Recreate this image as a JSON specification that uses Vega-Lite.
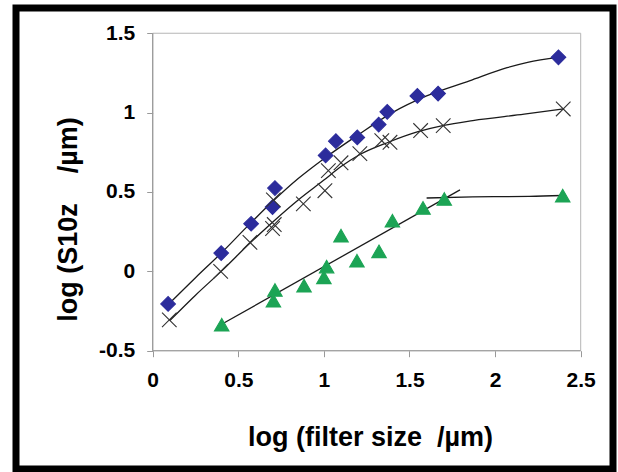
{
  "$schema": "https://vega.github.io/schema/vega-lite/v6.json",
  "autosize": "none",
  "width": 597,
  "height": 461,
  "padding": {"left": 16, "top": 8, "right": 5, "bottom": 3},
  "background": "white",
  "config": {
    "view": {"stroke": "#000000", "strokeWidth": 7},
    "axis": {
      "labelFont": "Liberation Sans",
      "labelFontWeight": "bold",
      "labelFontSize": 21,
      "labelColor": "#000000",
      "titleFont": "Liberation Sans",
      "titleFontWeight": "bold",
      "titleFontSize": 27,
      "titleColor": "#000000",
      "grid": false,
      "domain": false,
      "tickColor": "#999999",
      "tickSize": 6
    }
  },
  "datasets": {
    "points": [
      {"series": "A", "x": 0.09, "y": -0.205},
      {"series": "A", "x": 0.40, "y": 0.115},
      {"series": "A", "x": 0.575, "y": 0.30},
      {"series": "A", "x": 0.70, "y": 0.405},
      {"series": "A", "x": 0.714, "y": 0.525},
      {"series": "A", "x": 1.01, "y": 0.73},
      {"series": "A", "x": 1.07, "y": 0.82},
      {"series": "A", "x": 1.195, "y": 0.844},
      {"series": "A", "x": 1.32, "y": 0.925},
      {"series": "A", "x": 1.37, "y": 1.005},
      {"series": "A", "x": 1.546, "y": 1.105},
      {"series": "A", "x": 1.667, "y": 1.12},
      {"series": "A", "x": 2.37, "y": 1.348},
      {"series": "B", "x": 0.097, "y": -0.306},
      {"series": "B", "x": 0.397, "y": 0.0},
      {"series": "B", "x": 0.568, "y": 0.183},
      {"series": "B", "x": 0.70, "y": 0.27},
      {"series": "B", "x": 0.71, "y": 0.295},
      {"series": "B", "x": 0.705, "y": 0.45},
      {"series": "B", "x": 0.88, "y": 0.425},
      {"series": "B", "x": 1.006, "y": 0.508},
      {"series": "B", "x": 1.026, "y": 0.635},
      {"series": "B", "x": 1.10, "y": 0.684},
      {"series": "B", "x": 1.21, "y": 0.742},
      {"series": "B", "x": 1.338, "y": 0.823},
      {"series": "B", "x": 1.386, "y": 0.813},
      {"series": "B", "x": 1.565, "y": 0.887},
      {"series": "B", "x": 1.697, "y": 0.918},
      {"series": "B", "x": 2.398, "y": 1.023},
      {"series": "C", "x": 0.403, "y": -0.336},
      {"series": "C", "x": 0.705, "y": -0.185},
      {"series": "C", "x": 0.714, "y": -0.117},
      {"series": "C", "x": 0.884, "y": -0.09},
      {"series": "C", "x": 1.0, "y": -0.038},
      {"series": "C", "x": 1.016, "y": 0.03},
      {"series": "C", "x": 1.1, "y": 0.225},
      {"series": "C", "x": 1.193, "y": 0.067},
      {"series": "C", "x": 1.322, "y": 0.126},
      {"series": "C", "x": 1.40, "y": 0.319},
      {"series": "C", "x": 1.579, "y": 0.40},
      {"series": "C", "x": 1.703, "y": 0.456},
      {"series": "C", "x": 2.395, "y": 0.477}
    ],
    "curves": [
      {"curve": "A", "x": 0.09, "y": -0.21},
      {"curve": "A", "x": 0.25, "y": -0.04},
      {"curve": "A", "x": 0.4, "y": 0.115},
      {"curve": "A", "x": 0.55, "y": 0.28},
      {"curve": "A", "x": 0.7, "y": 0.44},
      {"curve": "A", "x": 0.85, "y": 0.585},
      {"curve": "A", "x": 1.0, "y": 0.71},
      {"curve": "A", "x": 1.2, "y": 0.86},
      {"curve": "A", "x": 1.4, "y": 1.0},
      {"curve": "A", "x": 1.6, "y": 1.105},
      {"curve": "A", "x": 1.85, "y": 1.2},
      {"curve": "A", "x": 2.07, "y": 1.283},
      {"curve": "A", "x": 2.19, "y": 1.317},
      {"curve": "A", "x": 2.37, "y": 1.348},
      {"curve": "B", "x": 0.1, "y": -0.31},
      {"curve": "B", "x": 0.25, "y": -0.15},
      {"curve": "B", "x": 0.4, "y": 0.0},
      {"curve": "B", "x": 0.57, "y": 0.18},
      {"curve": "B", "x": 0.7, "y": 0.31},
      {"curve": "B", "x": 0.85, "y": 0.45},
      {"curve": "B", "x": 1.0, "y": 0.575},
      {"curve": "B", "x": 1.1, "y": 0.66},
      {"curve": "B", "x": 1.2, "y": 0.73},
      {"curve": "B", "x": 1.38, "y": 0.815},
      {"curve": "B", "x": 1.55, "y": 0.88},
      {"curve": "B", "x": 1.7, "y": 0.92},
      {"curve": "B", "x": 1.87, "y": 0.95},
      {"curve": "B", "x": 2.17, "y": 0.99},
      {"curve": "B", "x": 2.4, "y": 1.023},
      {"curve": "C1", "x": 0.4, "y": -0.335},
      {"curve": "C1", "x": 1.795, "y": 0.513},
      {"curve": "C2", "x": 1.6, "y": 0.462},
      {"curve": "C2", "x": 1.87, "y": 0.469},
      {"curve": "C2", "x": 2.2, "y": 0.472},
      {"curve": "C2", "x": 2.395, "y": 0.478}
    ]
  },
  "encoding": {
    "x": {
      "type": "quantitative",
      "scale": {"domain": [-0.7985, 2.6887], "nice": false, "zero": false},
      "axis": {
        "orient": "bottom",
        "offset": -118.3,
        "values": [0, 0.5, 1, 1.5, 2, 2.5],
        "labelExpr": "'' + datum.value",
        "labelPadding": 13,
        "title": "log (filter size\u00a0\u00a0/µm)",
        "titleX": 354,
        "titleY": 87,
        "titleBaseline": "middle",
        "titleAlign": "center"
      }
    },
    "y": {
      "type": "quantitative",
      "scale": {"domain": [-1.245, 1.659], "nice": false, "zero": false},
      "axis": {
        "orient": "left",
        "offset": -136.7,
        "values": [-0.5, 0, 0.5, 1, 1.5],
        "labelExpr": "'' + datum.value",
        "labelPadding": 12,
        "title": "log (S10z\u00a0\u00a0\u00a0\u00a0/µm)",
        "titleX": -84,
        "titleY": 211,
        "titleAngle": -90,
        "titleBaseline": "middle",
        "titleAlign": "center"
      }
    }
  },
  "layer": [
    {
      "data": {"values": [{}]},
      "mark": {"type": "rect", "fill": null, "stroke": "#b5b5b5", "strokeWidth": 1},
      "encoding": {
        "x": {"datum": 0, "type": "quantitative"},
        "x2": {"datum": 2.5},
        "y": {"datum": -0.5, "type": "quantitative"},
        "y2": {"datum": 1.5}
      }
    },
    {
      "data": {"values": [{}]},
      "mark": {"type": "rule", "color": "#999999", "strokeWidth": 1.2},
      "encoding": {
        "x": {"datum": 0, "type": "quantitative"},
        "y": {"datum": -0.5, "type": "quantitative"},
        "y2": {"datum": 1.5}
      }
    },
    {
      "data": {"values": [{}]},
      "mark": {"type": "rule", "color": "#999999", "strokeWidth": 1.2},
      "encoding": {
        "y": {"datum": -0.5, "type": "quantitative"},
        "x": {"datum": 0, "type": "quantitative"},
        "x2": {"datum": 2.5}
      }
    },
    {
      "data": {"name": "curves"},
      "mark": {"type": "line", "color": "#1a1a1a", "strokeWidth": 1.3, "interpolate": "monotone"},
      "encoding": {
        "x": {"field": "x", "type": "quantitative"},
        "y": {"field": "y", "type": "quantitative"},
        "detail": {"field": "curve"},
        "order": {"field": "x", "type": "quantitative"}
      }
    },
    {
      "data": {"name": "points"},
      "mark": {"type": "point", "strokeWidth": 1.1, "opacity": 1},
      "encoding": {
        "x": {"field": "x", "type": "quantitative"},
        "y": {"field": "y", "type": "quantitative"},
        "shape": {
          "field": "series",
          "type": "nominal",
          "scale": {"domain": ["A", "B", "C"], "range": ["diamond", "M-1,-1L1,1M-1,1L1,-1", "triangle-up"]},
          "legend": null
        },
        "fill": {
          "field": "series",
          "type": "nominal",
          "scale": {"domain": ["A", "B", "C"], "range": ["#2c2c9c", "transparent", "#1ca455"]},
          "legend": null
        },
        "stroke": {
          "field": "series",
          "type": "nominal",
          "scale": {"domain": ["A", "B", "C"], "range": ["#2c2c9c", "#333333", "#1ca455"]},
          "legend": null
        },
        "size": {
          "field": "series",
          "type": "nominal",
          "scale": {"domain": ["A", "B", "C"], "range": [215, 210, 260]},
          "legend": null
        }
      }
    }
  ]
}
